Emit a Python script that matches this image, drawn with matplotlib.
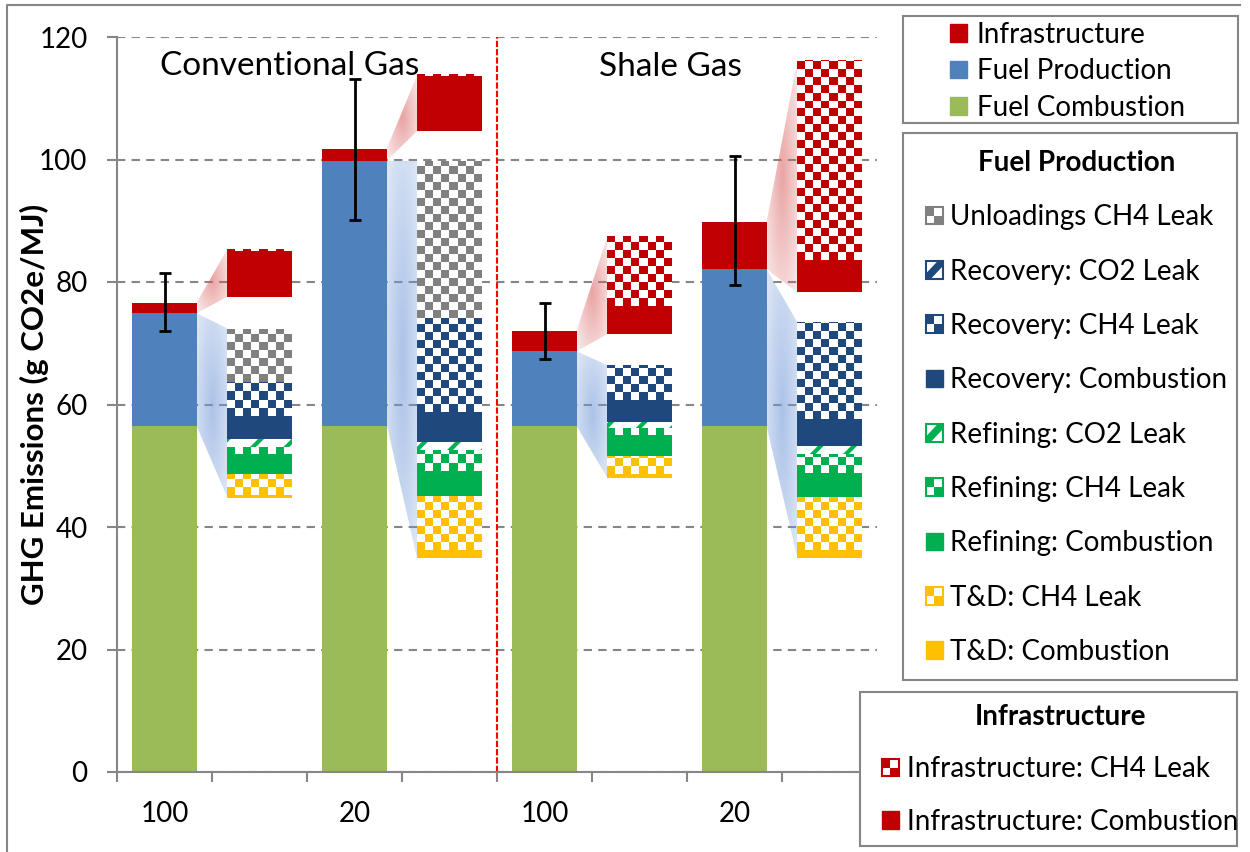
import numpy as np
import matplotlib
matplotlib.use("Agg")
import matplotlib.pyplot as plt
from matplotlib.patches import Rectangle, Polygon, Patch
from matplotlib.legend_handler import HandlerBase
from matplotlib.lines import Line2D
from matplotlib.colors import to_rgb

plt.rcParams['font.family'] = ['Lato', 'DejaVu Sans']
plt.rcParams['hatch.linewidth'] = 3.0

# ---- main bars: one per case (GWP horizon 100 / 20)
case_labels = ["100", "20", "100", "20"]
fuel_combustion = [56.5, 56.5, 56.5, 56.5]
fuel_production = [18.4, 43.3, 12.2, 25.6]
infrastructure = [1.7, 1.9, 3.3, 7.7]
err_minus = [4.6, 11.6, 4.5, 10.3]
err_plus = [4.9, 11.5, 4.6, 10.8]

# ---- zoomed breakdown of fuel production (floating stack)
fp_zoom_base = [44.8, 34.9, 48.0, 34.9]
td_combustion = [0.4, 1.3, 0.7, 1.3]
td_ch4_leak = [3.5, 8.9, 2.9, 8.7]
ref_combustion = [3.2, 4.1, 3.4, 3.9]
ref_ch4_leak = [1.2, 3.3, 1.2, 3.1]
ref_co2_leak = [1.3, 1.3, 1.0, 1.3]
rec_combustion = [3.8, 4.9, 3.5, 4.4]
rec_ch4_leak = [5.4, 15.4, 5.7, 15.8]
rec_co2_leak = [0.0, 0.0, 0.0, 0.0]
unload_ch4_leak = [8.8, 25.7, 0.0, 0.0]

# ---- zoomed breakdown of infrastructure
infra_zoom_base = [77.6, 104.7, 71.5, 78.3]
infra_combustion = [7.5, 8.9, 4.6, 5.3]
infra_ch4_leak = [0.3, 0.3, 11.4, 32.6]

# colours
C_INFRA = "#C00000"
C_FP = "#4F81BD"
C_FC = "#9BBB59"
C_UNL = "#808080"
C_REC = "#1F497D"
C_REF = "#00B050"
C_TD = "#FFC000"
GRAY = "#868686"

BAR_W = 0.674
N_CELLS = 8
CELL_H = 1.3
FS = 20

main_x = np.arange(4) * 2
zoom_x = main_x + 1


def checker_segment(ax, xc, y0, h, color):
    if h <= 0:
        return
    x0 = xc - BAR_W / 2
    rect = Rectangle((x0, y0), BAR_W, h, facecolor="white", edgecolor="none", zorder=2)
    ax.add_patch(rect)
    nrows = int(np.ceil(h / CELL_H))
    mask = np.add.outer(np.arange(nrows), np.arange(N_CELLS)) % 2 == 0
    img = np.ones((nrows, N_CELLS, 3))
    img[mask] = to_rgb(color)
    im = ax.imshow(img, extent=(x0, x0 + BAR_W, y0, y0 + nrows * CELL_H), origin="lower",
                   aspect="auto", interpolation="nearest", zorder=2.1)
    im.set_clip_path(rect)


def stripe_segment(ax, xc, y0, h, color):
    if h <= 0:
        return
    ax.bar(xc, h, bottom=y0, width=BAR_W, facecolor="white", edgecolor=color,
           hatch="/", linewidth=0, zorder=2)


def solid_segment(ax, xc, y0, h, color):
    if h <= 0:
        return
    ax.bar(xc, h, bottom=y0, width=BAR_W, color=color, linewidth=0, zorder=2)


def callout(ax, xa, ya0, ya1, xb, yb0, yb1, rgb, amax, amin):
    poly = Polygon([(xa, ya0), (xa, ya1), (xb, yb1), (xb, yb0)], closed=True,
                   facecolor="none", edgecolor="none")
    ax.add_patch(poly)
    gx, gy = np.meshgrid(np.linspace(-1, 1, 80), np.linspace(-1, 1, 80))
    d = np.clip(np.hypot(gx, gy) / 1.3, 0, 1)
    img = np.zeros((80, 80, 4))
    img[..., :3] = rgb
    img[..., 3] = amin + (amax - amin) * (1 - d)
    im = ax.imshow(img, extent=(xa, xb, min(ya0, yb0), max(ya1, yb1)), origin="lower",
                   aspect="auto", interpolation="bilinear", zorder=1)
    im.set_clip_path(poly)


class CheckerKey:
    def __init__(self, color):
        self.color = color


class StripeKey:
    def __init__(self, color):
        self.color = color


class HandlerChecker(HandlerBase):
    def create_artists(self, legend, orig_handle, xdescent, ydescent, width, height, fontsize, trans):
        x0, y0 = -xdescent, -ydescent
        c = orig_handle.color
        hw, hh = width / 2, height / 2
        return [
            Rectangle((x0, y0), width, height, facecolor="white", edgecolor="none", transform=trans),
            Rectangle((x0, y0 + hh), hw, hh, facecolor=c, edgecolor="none", transform=trans),
            Rectangle((x0 + hw, y0), hw, hh, facecolor=c, edgecolor="none", transform=trans),
            Rectangle((x0, y0), width, height, facecolor="none", edgecolor=c, lw=1.5, transform=trans),
        ]


class HandlerStripe(HandlerBase):
    def create_artists(self, legend, orig_handle, xdescent, ydescent, width, height, fontsize, trans):
        x0, y0 = -xdescent, -ydescent
        c = orig_handle.color
        w, h = width, height
        band = Polygon([(x0, y0), (x0 + 0.3 * w, y0), (x0 + w, y0 + 0.7 * h), (x0 + w, y0 + h),
                        (x0 + 0.7 * w, y0 + h), (x0, y0 + 0.3 * h)], closed=True,
                       facecolor=c, edgecolor="none", transform=trans)
        return [
            Rectangle((x0, y0), w, h, facecolor="white", edgecolor="none", transform=trans),
            band,
            Rectangle((x0, y0), w, h, facecolor="none", edgecolor=c, lw=1.5, transform=trans),
        ]


W, H = 1250, 852
fig = plt.figure(figsize=(W / 100, H / 100), dpi=100)
ax = fig.add_axes([117 / W, 1 - 772 / H, 760 / W, 735 / H])

# main stacked bars
fc = np.array(fuel_combustion)
fp = np.array(fuel_production)
inf = np.array(infrastructure)
ax.bar(main_x, fc, width=BAR_W, color=C_FC, linewidth=0, zorder=2)
ax.bar(main_x, fp, bottom=fc, width=BAR_W, color=C_FP, linewidth=0, zorder=2)
ax.bar(main_x, inf, bottom=fc + fp, width=BAR_W, color=C_INFRA, linewidth=0, zorder=2)
ax.errorbar(main_x, fc + fp + inf, yerr=[err_minus, err_plus], fmt="none", ecolor="black",
            elinewidth=2, capsize=4.5, capthick=2, zorder=5)

# zoomed fuel production stacks
fp_segments = [
    (td_combustion, C_TD, solid_segment),
    (td_ch4_leak, C_TD, checker_segment),
    (ref_combustion, C_REF, solid_segment),
    (ref_ch4_leak, C_REF, checker_segment),
    (ref_co2_leak, C_REF, stripe_segment),
    (rec_combustion, C_REC, solid_segment),
    (rec_ch4_leak, C_REC, checker_segment),
    (rec_co2_leak, C_REC, stripe_segment),
    (unload_ch4_leak, C_UNL, checker_segment),
]
infra_segments = [
    (infra_combustion, C_INFRA, solid_segment),
    (infra_ch4_leak, C_INFRA, checker_segment),
]

for i, xc in enumerate(zoom_x):
    y = fp_zoom_base[i]
    for vals, col, draw in fp_segments:
        draw(ax, xc, y, vals[i], col)
        y += vals[i]
    fp_top = y
    y = infra_zoom_base[i]
    for vals, col, draw in infra_segments:
        draw(ax, xc, y, vals[i], col)
        y += vals[i]
    infra_top = y

    xa = main_x[i] + BAR_W / 2
    xb = xc - BAR_W / 2
    callout(ax, xa, fc[i], fc[i] + fp[i], xb, fp_zoom_base[i], fp_top,
            (0.45, 0.60, 0.85), 0.6, 0.25)
    callout(ax, xa, fc[i] + fp[i], fc[i] + fp[i] + inf[i], xb, infra_zoom_base[i], infra_top,
            (0.85, 0.35, 0.35), 0.55, 0.15)

# divider between conventional and shale
ax.axvline(3.5, color="#FF0000", lw=1.5, linestyle=(0, (3, 1)), zorder=1.5)

ax.text(1.32, 113.8, "Conventional Gas", fontsize=24, ha="center", va="baseline", zorder=6)
ax.text(5.33, 113.6, "Shale Gas", fontsize=24, ha="center", va="baseline", zorder=6)

# axes styling
ax.set_xlim(-0.5, 7.5)
ax.set_ylim(0, 120)
ax.set_yticks(np.arange(0, 121, 20))
ax.set_xticks(np.arange(-0.5, 7.6, 1))
ax.set_xticklabels([])
ax.set_xticks(main_x, minor=True)
ax.set_xticklabels(case_labels, minor=True)
ax.tick_params(axis="x", which="major", direction="out", length=7.5, width=1.5, color=GRAY)
ax.tick_params(axis="x", which="minor", length=0, pad=21, labelsize=FS)
ax.tick_params(axis="y", direction="out", length=7.2, width=1.5, color=GRAY, pad=14, labelsize=FS)
ax.grid(axis="y", color=GRAY, lw=1.5, linestyle=(0, (4, 3)), zorder=0)
ax.set_axisbelow(True)
for s in ["top", "right"]:
    ax.spines[s].set_visible(False)
for s in ["left", "bottom"]:
    ax.spines[s].set_color(GRAY)
    ax.spines[s].set_linewidth(1.5)
ax.set_ylabel("GHG Emissions (g CO2e/MJ)", fontsize=22.5, fontweight="bold")
ax.yaxis.set_label_coords(-0.09, 0.5)

# outer chart border
fig.add_artist(Line2D([7 / W, 7 / W, 1240 / W], [0, 1 - 5 / H, 1 - 5 / H], color=GRAY, lw=1.5))

# legend frames
def frame(x0, y0, x1, y1):
    fig.add_artist(Rectangle((x0 / W, 1 - y1 / H), (x1 - x0) / W, (y1 - y0) / H,
                             transform=fig.transFigure, facecolor="white", edgecolor=GRAY,
                             lw=1.5, zorder=8))

frame(903, 16, 1238, 123)
frame(903, 133, 1237, 680)
frame(860, 692, 1237, 846)

hmap = {CheckerKey: HandlerChecker(), StripeKey: HandlerStripe()}
common = dict(frameon=False, loc="upper left", borderpad=0, borderaxespad=0,
              handlelength=0.6, handleheight=0.6, prop={"size": FS}, handler_map=hmap)

leg1 = fig.legend([Patch(color=C_INFRA), Patch(color=C_FP), Patch(color=C_FC)],
                  ["Infrastructure", "Fuel Production", "Fuel Combustion"],
                  bbox_to_anchor=(950 / W, 1 - 22 / H), labelspacing=0.37,
                  handletextpad=0.36, **common)
leg1.set_zorder(9)

fp_handles = [CheckerKey(C_UNL), StripeKey(C_REC), CheckerKey(C_REC), Patch(color=C_REC),
              StripeKey(C_REF), CheckerKey(C_REF), Patch(color=C_REF),
              CheckerKey(C_TD), Patch(color=C_TD)]
fp_labels = ["Unloadings CH4 Leak", "Recovery: CO2 Leak", "Recovery: CH4 Leak",
             "Recovery: Combustion", "Refining: CO2 Leak", "Refining: CH4 Leak",
             "Refining: Combustion", "T&D: CH4 Leak", "T&D: Combustion"]
leg2 = fig.legend(fp_handles, fp_labels, bbox_to_anchor=(926 / W, 1 - 150 / H),
                  labelspacing=1.02, handletextpad=0.25, title="Fuel Production",
                  title_fontproperties={"size": FS, "weight": "bold"}, **common)
leg2.set_zorder(9)

leg3 = fig.legend([CheckerKey(C_INFRA), Patch(color=C_INFRA)],
                  ["Infrastructure: CH4 Leak", "Infrastructure: Combustion"],
                  bbox_to_anchor=(882 / W, 1 - 704 / H), labelspacing=0.95,
                  handletextpad=0.29, title="Infrastructure",
                  title_fontproperties={"size": FS, "weight": "bold"}, **common)
leg3.set_zorder(9)

fig.savefig("out.png", dpi=100)
